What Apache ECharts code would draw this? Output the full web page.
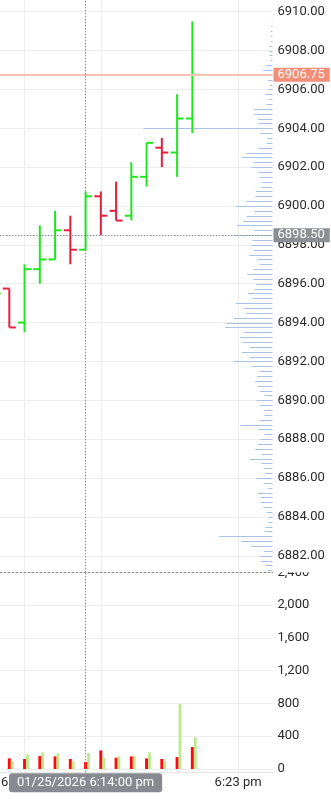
<!DOCTYPE html>
<html><head><meta charset="utf-8">
<script src="https://cdn.jsdelivr.net/npm/echarts@6/dist/echarts.min.js"></script>
<style>html,body{margin:0;padding:0;background:#fff}#c{width:331px;height:799px}</style>
</head><body><div id="c"></div>
<script>
// ---- data ----
const barIndex = [-1, 0, 1, 2, 3, 4, 5, 6, 7, 8, 9, 10, 11, 12];
const opens  = [6895.00, 6895.75, 6894.00, 6896.75, 6897.25, 6898.75, 6897.75, 6900.50, 6899.75, 6899.50, 6901.50, 6903.00, 6902.75, 6904.50];
const highs  = [6896.00, 6895.75, 6897.00, 6899.00, 6899.75, 6899.50, 6900.75, 6900.75, 6901.25, 6902.25, 6903.25, 6903.50, 6905.75, 6909.50];
const lows   = [6894.75, 6893.75, 6893.50, 6896.00, 6897.25, 6897.00, 6897.75, 6898.50, 6899.25, 6899.25, 6901.00, 6902.00, 6901.50, 6903.75];
const closes = [6895.50, 6893.75, 6896.75, 6897.25, 6898.75, 6897.75, 6900.50, 6899.50, 6899.25, 6901.50, 6903.25, 6902.75, 6904.50, 6906.75];
const sellVolume = [120, 130, 122, 158, 154, 122, 85, 227, 138, 154, 130, 122, 146, 268];
const buyVolume  = [110, 97, 179, 203, 191, 97, 195, 138, 154, 162, 203, 97, 790, 386];

const profilePrice = [
 6909.50, 6909.25, 6909.00, 6908.75, 6908.50, 6908.25, 6908.00, 6907.75, 6907.50, 6907.25,
 6907.00, 6906.75, 6906.50, 6906.25, 6906.00, 6905.75, 6905.50, 6905.25, 6905.00, 6904.75,
 6904.50, 6904.25, 6904.00, 6903.75, 6903.50, 6903.25, 6903.00, 6902.75, 6902.50, 6902.25,
 6902.00, 6901.75, 6901.50, 6901.25, 6901.00, 6900.75, 6900.50, 6900.25, 6900.00, 6899.75,
 6899.50, 6899.25, 6899.00, 6898.75, 6898.50, 6898.25, 6898.00, 6897.75, 6897.50, 6897.25,
 6897.00, 6896.75, 6896.50, 6896.25, 6896.00, 6895.75, 6895.50, 6895.25, 6895.00, 6894.75,
 6894.50, 6894.25, 6894.00, 6893.75, 6893.50, 6893.25, 6893.00, 6892.75, 6892.50, 6892.25,
 6892.00, 6891.75, 6891.50, 6891.25, 6891.00, 6890.75, 6890.50, 6890.25, 6890.00, 6889.75,
 6889.50, 6889.25, 6889.00, 6888.75, 6888.50, 6888.25, 6888.00, 6887.75, 6887.50, 6887.25,
 6887.00, 6886.75, 6886.50, 6886.25, 6886.00, 6885.75, 6885.50, 6885.25, 6885.00, 6884.75,
 6884.50, 6884.25, 6884.00, 6883.75, 6883.50, 6883.25, 6883.00, 6882.75, 6882.50, 6882.25,
 6882.00, 6881.75, 6881.50, 6881.25];
const profileVolume = [
 7, 13, 20, 17, 17, 33, 33, 27, 20, 60,
 93, 50, 47, 27, 40, 73, 40, 60, 187, 180,
 147, 140, 1290, 127, 53, 60, 140, 260, 303, 193,
 213, 140, 127, 100, 113, 167, 173, 260, 367, 180,
 260, 293, 353, 180, 387, 200, 213, 187, 233, 153,
 127, 193, 253, 193, 160, 180, 247, 200, 367, 287,
 260, 387, 460, 473, 287, 327, 300, 227, 307, 227,
 387, 213, 133, 153, 173, 147, 127, 80, 160, 127,
 87, 80, 133, 320, 140, 80, 127, 147, 173, 107,
 227, 113, 87, 73, 160, 87, 47, 147, 120, 120,
 93, 60, 40, 47, 73, 80, 533, 313, 213, 87,
 127, 113, 73, 53];

const priceTicks = [6882, 6884, 6886, 6888, 6890, 6892, 6894, 6896, 6898, 6900, 6902, 6904, 6906, 6908, 6910];
const volumeTicks = [0, 400, 800, 1200, 1600, 2000, 2400];
const volumeGridTicks = [0, 400, 800, 1200, 1600, 2000];
const timeTickIndex = [1, 6, 15];
const timeTickLabels = ['6:10 pm', '6:15 pm', '6:23 pm'];
const lastPrice = 6906.75;
const crossPrice = 6898.50;
const crossIndex = 5;
const crossLabel = '01/25/2026 6:14:00 pm';

// ---- style ----
const UP = '#1fe61f', DOWN = '#e3203f';
const SELL = '#fa0c0c', BUY = '#bce98d';
const PROFILE = '#a9c2e6';
const TXT = '#2b2b2b';
const FONT = 'Roboto';
const X_MIN = -0.611, X_MAX = 17.254;
const P_MIN = 6881.15, P_MAX = 6910.6;

const ohlcData = barIndex.map((x, i) => [x, opens[i], closes[i], highs[i], lows[i]]);
const volData = barIndex.map((x, i) => [x, sellVolume[i], buyVolume[i]]);
const profData = profilePrice.map((p, i) => [profileVolume[i], p]);

const chart = echarts.init(document.getElementById('c'), null, {renderer: 'canvas'});
const grid0 = {left: 0, right: 58.5, top: 0, height: 572.3, containLabel: false, outerBoundsMode: 'none'};
const grid1 = {left: 0, right: 58.5, top: 572.3, height: 200, containLabel: false, outerBoundsMode: 'none'};
const splitStyle = {show: true, lineStyle: {color: '#ededed', width: 1}};

chart.setOption({
  animation: false,
  backgroundColor: '#ffffff',
  textStyle: {fontFamily: FONT},
  grid: [grid0, grid1],
  xAxis: [
    {gridIndex: 0, type: 'value', min: X_MIN, max: X_MAX,
     axisLine: {show: true, onZero: false, lineStyle: {color: '#8e8e8e', width: 1, type: [2, 2]}},
     axisTick: {show: false, customValues: timeTickIndex},
     axisLabel: {show: false}, splitLine: splitStyle},
    {gridIndex: 0, type: 'value', min: 0, max: 2725, inverse: true, show: false,
     splitLine: {show: false}},
    {gridIndex: 1, type: 'value', min: X_MIN, max: X_MAX,
     axisLine: {show: true, onZero: false, lineStyle: {color: '#e6e6e6', width: 1}},
     axisTick: {show: false, customValues: timeTickIndex},
     axisLabel: {customValues: timeTickIndex, color: TXT, fontSize: 13, fontFamily: FONT, margin: 4,
       formatter: v => timeTickLabels[timeTickIndex.indexOf(Math.round(v))] || ''},
     splitLine: splitStyle}
  ],
  yAxis: [
    {gridIndex: 0, type: 'value', position: 'right', min: P_MIN, max: P_MAX,
     axisLine: {show: false}, axisTick: {show: false, customValues: priceTicks},
     axisLabel: {customValues: priceTicks, color: TXT, fontSize: 13, fontFamily: FONT, margin: 5,
       formatter: v => v.toFixed(2)},
     splitLine: splitStyle},
    {gridIndex: 1, type: 'value', position: 'right', min: -40, max: 2400,
     axisLine: {show: false}, axisTick: {show: false, customValues: volumeGridTicks},
     axisLabel: {customValues: volumeTicks, color: TXT, fontSize: 13, fontFamily: FONT, margin: 5,
       formatter: v => v.toLocaleString('en-US')},
     splitLine: splitStyle}
  ],
  series: [
    {type: 'custom', name: 'profile', xAxisIndex: 1, yAxisIndex: 0, z: 1, silent: true,
     data: profData, encode: {x: 0, y: 1},
     renderItem: (params, api) => {
       const a = api.coord([0, api.value(1)]);
       const b = api.coord([api.value(0), api.value(1)]);
       const y = Math.round(a[1]) + 0.5;
       return {type: 'line', shape: {x1: b[0], y1: y, x2: a[0], y2: y},
               style: {stroke: PROFILE, lineWidth: 1}};
     }},
    {type: 'line', xAxisIndex: 0, yAxisIndex: 0, data: [], z: 2, silent: true,
     markLine: {symbol: ['none', 'none'], silent: true, animation: false,
       data: [{yAxis: lastPrice,
         lineStyle: {color: '#f8c3b3', width: 2, type: 'solid'},
         label: {show: true, position: 'end', distance: 1, formatter: () => lastPrice.toFixed(2),
           backgroundColor: '#f38f78', color: '#fff', fontSize: 13, fontFamily: FONT,
           padding: [1, 5, 0, 4], lineHeight: 13}}]}},
    {type: 'custom', name: 'ohlc', xAxisIndex: 0, yAxisIndex: 0, z: 3, silent: true,
     data: ohlcData, encode: {x: 0, y: [1, 2, 3, 4]}, clip: false,
     renderItem: (params, api) => {
       const x = api.value(0);
       const o = api.coord([x, api.value(1)]);
       const c = api.coord([x, api.value(2)]);
       const h = api.coord([x, api.value(3)]);
       const l = api.coord([x, api.value(4)]);
       const col = api.value(2) >= api.value(1) ? UP : DOWN;
       const t = 6.5;
       const st = {stroke: col, lineWidth: 2};
       return {type: 'group', children: [
         {type: 'line', shape: {x1: h[0], y1: h[1], x2: l[0], y2: l[1]}, style: st},
         {type: 'line', shape: {x1: o[0] - t, y1: o[1], x2: o[0], y2: o[1]}, style: st},
         {type: 'line', shape: {x1: c[0], y1: c[1], x2: c[0] + t, y2: c[1]}, style: st}
       ]};
     }},
    {type: 'custom', name: 'volume', xAxisIndex: 2, yAxisIndex: 1, z: 3, silent: true,
     data: volData, encode: {x: 0, y: [1, 2]},
     renderItem: (params, api) => {
       const x = api.value(0);
       const z0 = api.coord([x, 0]);
       const s = api.coord([x, api.value(1)]);
       const b = api.coord([x, api.value(2)]);
       return {type: 'group', children: [
         {type: 'rect', shape: {x: z0[0] - 1.5, y: s[1], width: 3, height: z0[1] - s[1]}, style: {fill: SELL}},
         {type: 'rect', shape: {x: z0[0] + 1.5, y: b[1], width: 2.8, height: z0[1] - b[1]}, style: {fill: BUY}}
       ]};
     }},
    {type: 'line', xAxisIndex: 0, yAxisIndex: 0, data: [], z: 10, silent: true,
     markLine: {symbol: ['none', 'none'], silent: true, animation: false,
       lineStyle: {color: '#8a8a8a', width: 1, type: [1.5, 1.5]},
       data: [
         {xAxis: crossIndex, label: {show: false}},
         {yAxis: crossPrice,
          label: {show: true, position: 'end', distance: 1, formatter: () => crossPrice.toFixed(2),
            backgroundColor: '#8b8e93', color: '#fff', fontSize: 13, fontFamily: FONT,
            padding: [1, 5, 0, 4], lineHeight: 13}}
       ]}},
    {type: 'line', xAxisIndex: 2, yAxisIndex: 1, data: [], z: 10, silent: true,
     markLine: {symbol: ['none', 'none'], silent: true, animation: false,
       lineStyle: {color: '#8a8a8a', width: 1, type: [1.5, 1.5]},
       data: [{xAxis: crossIndex,
         label: {show: true, position: 'start', distance: 1, formatter: () => crossLabel,
           backgroundColor: '#878b91', color: '#fff', fontSize: 13, fontFamily: FONT,
           padding: [3, 8, 3, 8], borderRadius: 3}}]}}
  ],
  graphic: [{type: 'rect', z: 100, silent: true,
    shape: {x: 274, y: 563.5, width: 57, height: 8.8}, style: {fill: '#ffffff'}}]
});
</script>
</body></html>
